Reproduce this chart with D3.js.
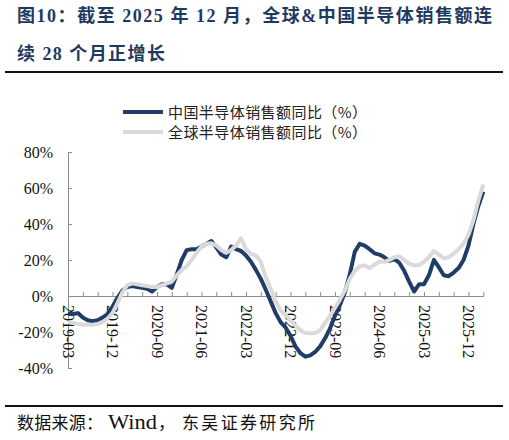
<!DOCTYPE html>
<html>
<head>
<meta charset="utf-8">
<script src="https://cdn.jsdelivr.net/npm/d3@7/dist/d3.min.js"></script>
<style>
  body { margin: 0; background: #fff; }
  svg { display: block; }
</style>
</head>
<body>
<svg id="chart"></svg>
<script>
// monthly YoY (%) starting 2019-03, one value per month
const chinaYoY = [-10, -10, -9.5, -12, -13.5, -14, -13.5, -12, -10, -6,
  -1, 3, 5, 5.5, 5, 4.5, 4, 2.5, 5, 6.5,
  6.5, 4.5, 12, 20, 25.5, 26, 26, 27.5, 29, 30.5,
  27, 23, 21.5, 27.5, 26, 25, 22.5, 19, 14.5, 9.5,
  3.5, -3, -9.5, -14.5, -17.5, -22, -28, -31.7, -33.7, -33,
  -31, -28, -23.5, -18, -11, -5, 2, 12, 24.5, 29,
  28, 26, 23.7, 23, 21.5, 19.5, 20.5, 18.5, 14, 8,
  2.5, 6.5, 6.5, 11.5, 20, 16, 11.5, 11, 13, 15.5,
  20, 28, 40, 50, 58];

const globalYoY = [-14.5, -15, -15.5, -16, -16, -16, -15.5, -14.5, -12.5, -9.5,
  -4, 2, 6, 7, 6.5, 6, 5.5, 5, 5, 6,
  7, 8, 11.5, 14.5, 16.5, 20, 24, 27.5, 29, 29.3,
  28, 25.5, 24, 25.5, 28, 32, 26, 23.5, 22.5, 19,
  10.5, 4, -3, -8, -10.5, -13.5, -16.5, -19, -20.5, -20.7,
  -20.5, -19, -15, -11, -6.5, -2, 3, 9.5, 14, 16.5,
  17, 15.5, 17.5, 19, 19, 20, 21.5, 22, 20, 18,
  17, 17.2, 19, 21.5, 25, 23, 21, 21.5, 23.5, 26,
  29, 34, 42, 53, 62];

const tickLabels = ["2019-03", "2019-12", "2020-09", "2021-06", "2022-03",
  "2022-12", "2023-09", "2024-06", "2025-03", "2025-12"];
const yTicks = [-40, -20, 0, 20, 40, 60, 80];
const seriesNames = ["中国半导体销售额同比（%）", "全球半导体销售额同比（%）"];

const width = 509, height = 440;
const latinCjk = '"Liberation Serif", "Noto Sans CJK SC", serif';

const svg = d3.select('#chart')
  .attr('width', width)
  .attr('height', height);

// title
const title = svg.append('g')
  .attr('fill', '#1f3a60')
  .attr('font-family', latinCjk)
  .attr('font-weight', 'bold')
  .attr('font-size', 18);
title.append('text')
  .attr('x', 17).attr('y', 22)
  .attr('textLength', 475).attr('lengthAdjust', 'spacing')
  .text('图10：截至 2025 年 12 月，全球&中国半导体销售额连');
title.append('text')
  .attr('x', 17).attr('y', 60)
  .attr('textLength', 148).attr('lengthAdjust', 'spacing')
  .text('续 28 个月正增长');

// separator rules
svg.append('line').attr('x1', 5).attr('x2', 503).attr('y1', 72).attr('y2', 72)
  .attr('stroke', '#111').attr('stroke-width', 2);
svg.append('line').attr('x1', 5).attr('x2', 503).attr('y1', 406).attr('y2', 406)
  .attr('stroke', '#111').attr('stroke-width', 2);

// source line, in pieces so the latin word keeps its own width
const source = svg.append('g')
  .attr('font-family', latinCjk)
  .attr('font-size', 17)
  .attr('fill', '#111');
source.append('text').attr('x', 17).attr('y', 429)
  .attr('textLength', 86).attr('lengthAdjust', 'spacing')
  .text('数据来源：');
source.append('text').attr('x', 108).attr('y', 429)
  .attr('font-size', 20)
  .attr('textLength', 49).attr('lengthAdjust', 'spacingAndGlyphs')
  .text('Wind');
source.append('text').attr('x', 158).attr('y', 429)
  .text('，');
source.append('text').attr('x', 182).attr('y', 429)
  .attr('textLength', 133).attr('lengthAdjust', 'spacing')
  .text('东吴证券研究所');

// scales
const x = d3.scaleLinear().domain([0, 84]).range([68, 483.3]);
const y = d3.scaleLinear().domain([-40, 80]).range([368, 152]);

// y axis
const yAxis = svg.append('g')
  .attr('transform', `translate(${x(0)},0)`)
  .call(d3.axisLeft(y).tickValues(yTicks).tickSizeInner(-4).tickSizeOuter(0)
    .tickPadding(15).tickFormat(d => d + '%'));

// x axis at 0%, tick every 3 months, label every 9
const xAxis = svg.append('g')
  .attr('transform', `translate(0,${y(0)})`)
  .call(d3.axisBottom(x).tickValues(d3.range(0, 85, 3)).tickSizeInner(-4).tickSizeOuter(0)
    .tickFormat(d => d % 9 === 0 ? tickLabels[d / 9] : ''));

xAxis.selectAll('text')
  .attr('transform', 'rotate(90)')
  .attr('x', 9).attr('y', 0).attr('dy', '0.35em')
  .attr('text-anchor', 'start');

[yAxis, xAxis].forEach(a => {
  a.selectAll('path, line').attr('stroke', '#8c8c8c');
  a.selectAll('text').attr('font-family', '"Liberation Serif", serif')
    .attr('font-size', 16).attr('fill', '#111');
});

// lines
const line = d3.line()
  .x((d, i) => x(i))
  .y(d => y(d));

svg.append('path')
  .datum(chinaYoY)
  .attr('fill', 'none')
  .attr('stroke', '#1f3d66')
  .attr('stroke-width', 4)
  .attr('stroke-linejoin', 'round')
  .attr('d', line);

svg.append('path')
  .datum(globalYoY)
  .attr('fill', 'none')
  .attr('stroke', '#dadada')
  .attr('stroke-width', 4)
  .attr('stroke-linejoin', 'round')
  .attr('d', line);

// legend
const legend = svg.append('g');
const legendColors = ['#1f3d66', '#dadada'];
seriesNames.forEach((name, i) => {
  const ly = 112 + i * 20;
  legend.append('line')
    .attr('x1', 123).attr('x2', 163).attr('y1', ly).attr('y2', ly)
    .attr('stroke', legendColors[i]).attr('stroke-width', 4);
  legend.append('text')
    .attr('x', 168).attr('y', ly + 6)
    .attr('font-family', '"Noto Sans CJK SC", sans-serif')
    .attr('font-size', 15)
    .attr('fill', '#222')
    .attr('textLength', 199).attr('lengthAdjust', 'spacing')
    .text(name);
});
</script>
</body>
</html>
